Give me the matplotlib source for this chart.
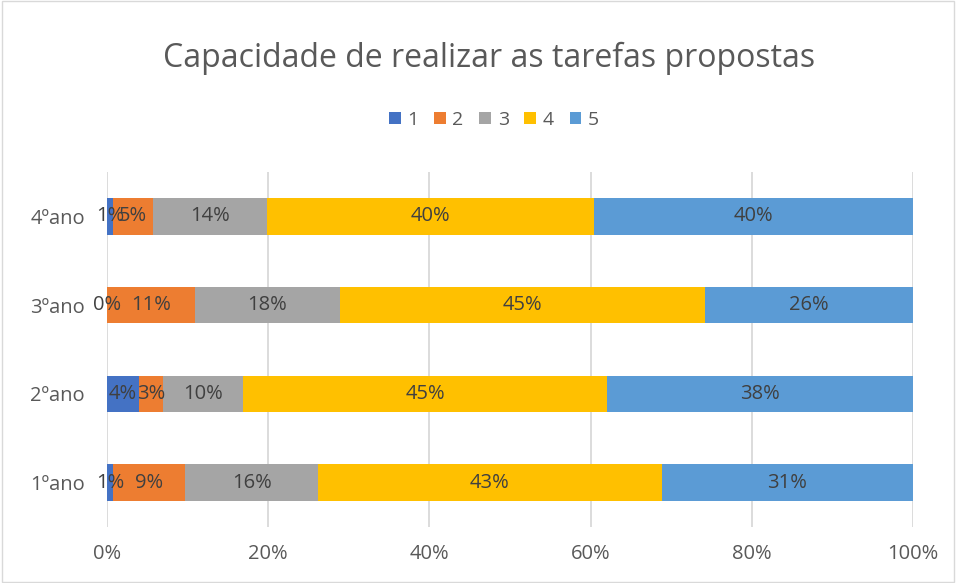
import matplotlib
matplotlib.use("Agg")
import matplotlib.pyplot as plt
from matplotlib.patches import Rectangle

categories = ["1ºano", "2ºano", "3ºano", "4ºano"]
series_names = ["1", "2", "3", "4", "5"]
# percentages per category for each score (1..5)
s1 = [0.7, 4.0, 0.0, 0.7]
s2 = [9.0, 2.9, 10.9, 5.0]
s3 = [16.5, 10.0, 18.0, 14.2]
s4 = [42.6, 45.1, 45.3, 40.5]
s5 = [31.2, 38.0, 25.8, 39.6]
labels1 = ["1%", "4%", "0%", "1%"]
labels2 = ["9%", "3%", "11%", "5%"]
labels3 = ["16%", "10%", "18%", "14%"]
labels4 = ["43%", "45%", "45%", "40%"]
labels5 = ["31%", "38%", "26%", "40%"]
xticks = [0, 20, 40, 60, 80, 100]
xticklabels = ["0%", "20%", "40%", "60%", "80%", "100%"]

series = [s1, s2, s3, s4, s5]
all_labels = [labels1, labels2, labels3, labels4, labels5]
colors = ["#4472C4", "#ED7D31", "#A5A5A5", "#FFC000", "#5B9BD5"]

plt.rcParams['font.family'] = ['Open Sans', 'DejaVu Sans']

fig = plt.figure(figsize=(9.56, 5.83), dpi=100)
fig.patches.append(Rectangle((0.002, 0.002), 0.996, 0.996, transform=fig.transFigure,
                             fill=False, edgecolor="#D9D9D9", linewidth=1))
W, H = 956, 583
ax = fig.add_axes([107 / W, 1 - 527 / H, (913 - 107) / W, (527 - 172) / H])

y = list(range(len(categories)))
left = [0.0] * len(categories)
handles = []
for vals, col, name, labs in zip(series, colors, series_names, all_labels):
    bars = ax.barh(y, vals, left=left, height=0.41, color=col, label=name, zorder=3)
    handles.append(bars)
    for i, (v, l, lab) in enumerate(zip(vals, left, labs)):
        ax.text(l + v / 2, y[i], lab, ha="center", va="center",
                fontsize=14.5, color="#404040", zorder=4)
    left = [a + b for a, b in zip(left, vals)]

ax.set_xlim(0, 100)
ax.set_ylim(-0.5, 3.5)
ax.set_xticks(xticks)
ax.set_xticklabels(xticklabels, fontsize=14.5, color="#595959")
ax.set_yticks(y)
ax.set_yticklabels(categories, fontsize=14.5, color="#595959")
ax.tick_params(axis="both", length=0)
ax.tick_params(axis="y", pad=16)
ax.tick_params(axis="x", pad=12)
ax.grid(axis="x", color="#D9D9D9", linewidth=1.3, zorder=0)
for sp in ax.spines.values():
    sp.set_visible(False)

fig.text(489 / W, 1 - 58 / H, "Capacidade de realizar as tarefas propostas",
         ha="center", va="center", fontsize=23, color="#595959")
fig.legend(handles=handles, labels=series_names, loc="center",
           bbox_to_anchor=(494 / W, 1 - 120 / H), ncol=5, frameon=False,
           fontsize=14, handlelength=0.6, handleheight=0.6, handletextpad=0.35,
           columnspacing=0.8, labelcolor="#595959")

fig.savefig("out.png", dpi=100)
